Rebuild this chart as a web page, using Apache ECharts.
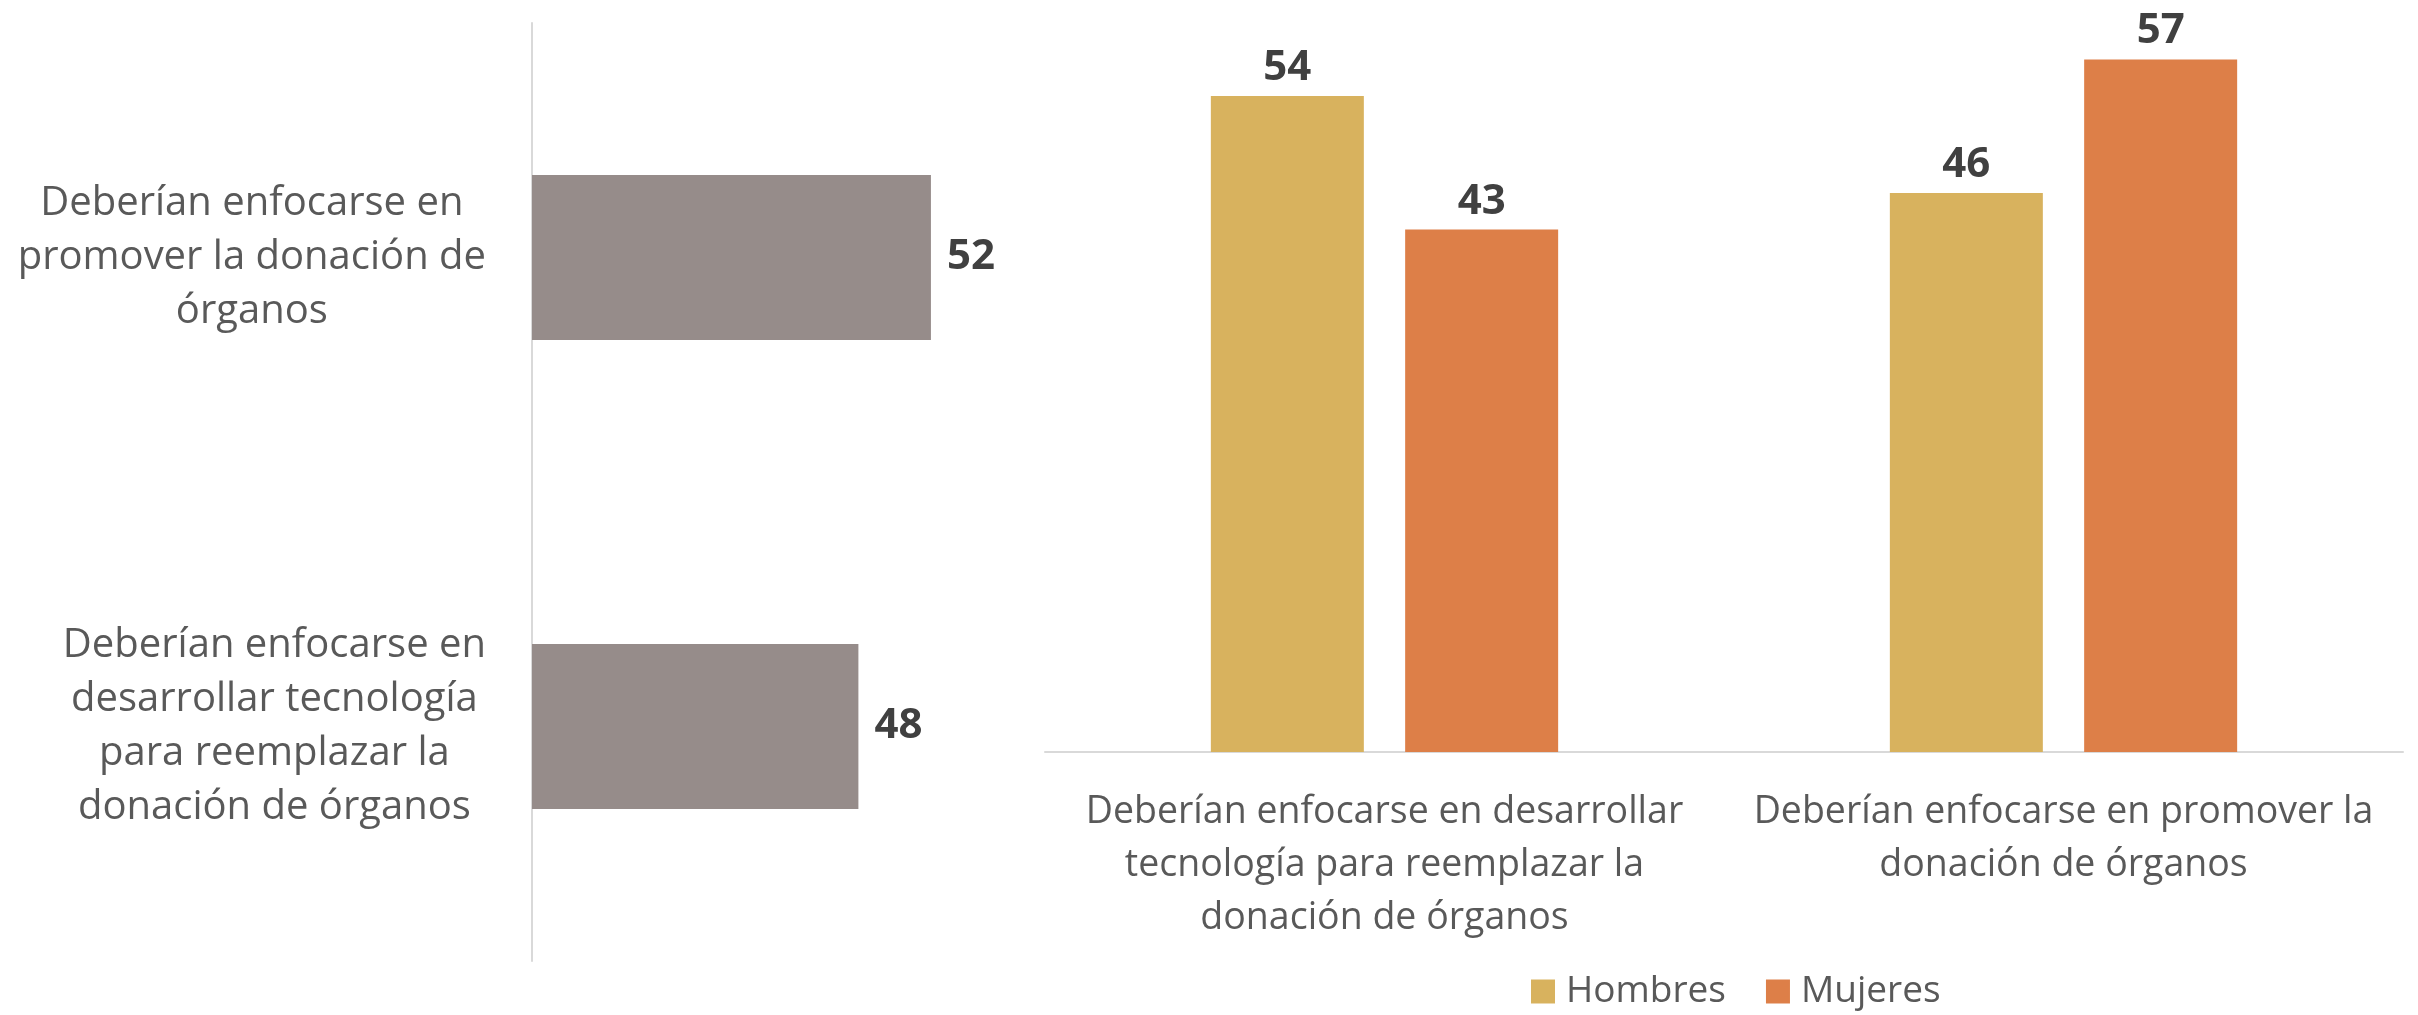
<!DOCTYPE html>
<html>
<head>
<meta charset="utf-8">
<title>Donación de órganos</title>
<script src="https://cdn.jsdelivr.net/npm/echarts@6/dist/echarts.min.js"></script>
<style>
  html, body { margin: 0; padding: 0; background: #fff; }
  #chart { width: 2418px; height: 1015px; }
</style>
</head>
<body>
<div id="chart"></div>
<script>
// left panel: total
const totalCats = [
    'Deberían enfocarse en\npromover la donación de\nórganos',
    'Deberían enfocarse en\ndesarrollar tecnología\npara reemplazar la\ndonación de órganos'
];
const totalValues = [52, 48];

// right panel: by sex
const sexCats = [
    'Deberían enfocarse en desarrollar\ntecnología para reemplazar la\ndonación de órganos',
    'Deberían enfocarse en promover la\ndonación de órganos'
];
const hombres = [54, 46];
const mujeres = [43, 57];

const FONT = '"Open Sans", "Noto Sans", sans-serif';
const labelColor = '#595959';
const valueColor = '#404040';
const lineColor = '#D9D9D9';

const chart = echarts.init(document.getElementById('chart'));

const valueLabel = {
    show: true,
    fontFamily: FONT,
    fontSize: 42,
    fontWeight: 'bold',
    color: valueColor
};

const option = {
    animation: false,
    textStyle: {fontFamily: FONT},
    grid: [
        {left: 532, top: 23, width: 544, height: 938},
        {left: 1045, top: 23, width: 1358, height: 729}
    ],
    legend: {
        data: ['Hombres', 'Mujeres'],
        left: 1526,
        top: 968,
        itemWidth: 24,
        itemHeight: 24,
        itemGap: 40,
        icon: 'rect',
        textStyle: {
            fontFamily: FONT,
            fontSize: 37,
            color: labelColor,
            padding: [0, 0, 0, 6]
        }
    },
    xAxis: [
        {
            gridIndex: 0,
            type: 'value',
            min: 30,
            max: 60,
            show: false
        },
        {
            gridIndex: 1,
            type: 'category',
            data: sexCats,
            axisLine: {lineStyle: {color: lineColor, width: 2}},
            axisTick: {show: false},
            axisLabel: {
                interval: 0,
                margin: 34,
                fontFamily: FONT,
                fontSize: 37.5,
                lineHeight: 53,
                color: labelColor,
                align: 'center'
            }
        }
    ],
    yAxis: [
        {
            gridIndex: 0,
            type: 'category',
            data: totalCats,
            inverse: true,
            axisLine: {lineStyle: {color: lineColor, width: 2}},
            axisTick: {show: false},
            axisLabel: {
                interval: 0,
                margin: 46,
                align: 'right',
                formatter: function (v) {
                    return v.split('\n').map(function (s) { return '{c|' + s + '}'; }).join('\n');
                },
                rich: {
                    c: {
                        align: 'center',
                        fontFamily: FONT,
                        fontSize: 40,
                        lineHeight: 54,
                        color: labelColor
                    }
                }
            }
        },
        {
            gridIndex: 1,
            type: 'value',
            min: 0,
            max: 60,
            show: false,
            splitLine: {show: false}
        }
    ],
    series: [
        {
            type: 'bar',
            xAxisIndex: 0,
            yAxisIndex: 0,
            data: totalValues,
            barWidth: 165,
            itemStyle: {color: '#968C8A'},
            label: Object.assign({position: 'right', distance: 16}, valueLabel)
        },
        {
            name: 'Hombres',
            type: 'bar',
            xAxisIndex: 1,
            yAxisIndex: 1,
            data: hombres,
            barWidth: 153,
            barGap: '27%',
            itemStyle: {color: '#D8B25E'},
            label: Object.assign({position: 'top', distance: 7}, valueLabel)
        },
        {
            name: 'Mujeres',
            type: 'bar',
            xAxisIndex: 1,
            yAxisIndex: 1,
            data: mujeres,
            barWidth: 153,
            barGap: '27%',
            itemStyle: {color: '#DD7F48'},
            label: Object.assign({position: 'top', distance: 7}, valueLabel)
        }
    ]
};

chart.setOption(option);

window.addEventListener('resize', chart.resize.bind(chart));
</script>
</body>
</html>
